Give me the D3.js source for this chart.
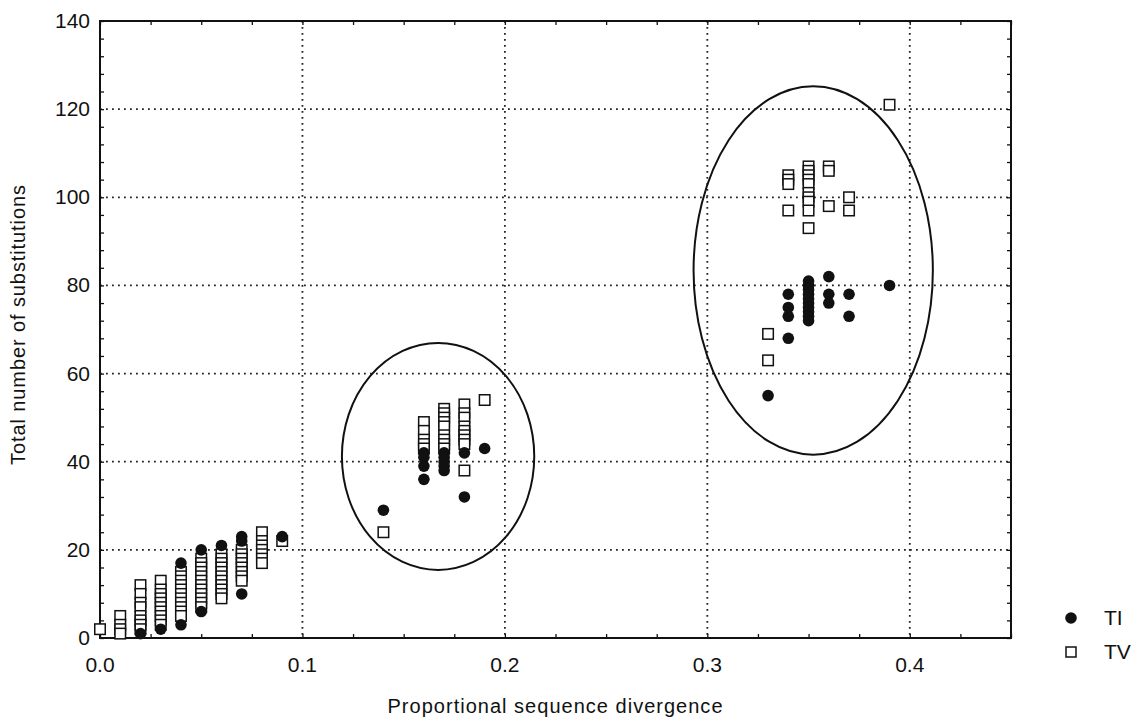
<!DOCTYPE html>
<html>
<head>
<meta charset="utf-8">
<script src="https://cdn.jsdelivr.net/npm/d3@7"></script>
<style>
  body { margin: 0; background: #fff; }
  svg text { font-family: "Liberation Sans", Arial, sans-serif; fill: #111; }
</style>
</head>
<body>
<svg id="chart" width="1148" height="723"></svg>
<script>
// values: [divergence, substitutions]
var tiPoints = [
  [0.02, 1], [0.03, 2],
  [0.04, 17], [0.04, 3],
  [0.05, 20], [0.05, 6],
  [0.06, 21],
  [0.07, 23], [0.07, 22], [0.07, 10],
  [0.09, 23],
  [0.14, 29],
  [0.16, 42], [0.16, 41], [0.16, 39], [0.16, 36],
  [0.17, 42], [0.17, 41], [0.17, 40], [0.17, 39], [0.17, 38],
  [0.18, 42], [0.18, 32],
  [0.19, 43],
  [0.33, 55],
  [0.34, 78], [0.34, 75], [0.34, 73], [0.34, 68],
  [0.35, 81], [0.35, 80], [0.35, 79], [0.35, 78], [0.35, 77], [0.35, 76], [0.35, 75], [0.35, 74], [0.35, 73], [0.35, 72],
  [0.36, 82], [0.36, 78], [0.36, 76],
  [0.37, 78], [0.37, 73],
  [0.39, 80]
];

var tvPoints = [
  [0.00, 2],
  [0.01, 5], [0.01, 3], [0.01, 2], [0.01, 1],
  [0.02, 12], [0.02, 10], [0.02, 8], [0.02, 7], [0.02, 5], [0.02, 4], [0.02, 3], [0.02, 2],
  [0.03, 13], [0.03, 11], [0.03, 10], [0.03, 9], [0.03, 8], [0.03, 7], [0.03, 6], [0.03, 5], [0.03, 4], [0.03, 3],
  [0.04, 15], [0.04, 14], [0.04, 13], [0.04, 12], [0.04, 11], [0.04, 10], [0.04, 9], [0.04, 8], [0.04, 7], [0.04, 6], [0.04, 5],
  [0.05, 18], [0.05, 17], [0.05, 16], [0.05, 15], [0.05, 14], [0.05, 13], [0.05, 12], [0.05, 11], [0.05, 10], [0.05, 9], [0.05, 8], [0.05, 7],
  [0.06, 19], [0.06, 18], [0.06, 17], [0.06, 16], [0.06, 15], [0.06, 14], [0.06, 13], [0.06, 12], [0.06, 11], [0.06, 10], [0.06, 9],
  [0.07, 20], [0.07, 19], [0.07, 18], [0.07, 17], [0.07, 16], [0.07, 15], [0.07, 14], [0.07, 13],
  [0.08, 24], [0.08, 22], [0.08, 21], [0.08, 20], [0.08, 19], [0.08, 18], [0.08, 17],
  [0.09, 22],
  [0.14, 24],
  [0.16, 49], [0.16, 47], [0.16, 45], [0.16, 44], [0.16, 43],
  [0.17, 52], [0.17, 51], [0.17, 50], [0.17, 49], [0.17, 48], [0.17, 46], [0.17, 45], [0.17, 44], [0.17, 43],
  [0.18, 53], [0.18, 51], [0.18, 50], [0.18, 48], [0.18, 47], [0.18, 46], [0.18, 45], [0.18, 44], [0.18, 38],
  [0.19, 54],
  [0.33, 69], [0.33, 63],
  [0.34, 105], [0.34, 104], [0.34, 103], [0.34, 97],
  [0.35, 107], [0.35, 106], [0.35, 105], [0.35, 104], [0.35, 103], [0.35, 101], [0.35, 100], [0.35, 99], [0.35, 97], [0.35, 93],
  [0.36, 107], [0.36, 106], [0.36, 98],
  [0.37, 100], [0.37, 97],
  [0.39, 121]
];

// the two clusters that are circled: centre and radii in data units
var clusterEllipses = [
  { cx: 0.167, cy: 41.2, rx: 0.0475, ry: 25.75 },
  { cx: 0.3523, cy: 83.4, rx: 0.0591, ry: 41.8 }
];

var xTicks = [0, 0.1, 0.2, 0.3, 0.4];
var yTicks = [0, 20, 40, 60, 80, 100, 120, 140];
var legendItems = ["TI", "TV"];

var svg = d3.select("#chart");
// plot frame in pixels
var pLeft = 100, pTop = 21, pRight = 1011, pBottom = 638;

var x = d3.scaleLinear().domain([0, 0.45]).range([pLeft, pRight]);
var y = d3.scaleLinear().domain([0, 140]).range([pBottom, pTop]);

// dotted grid, skip the frame edges
var grid = svg.append("g")
    .attr("stroke", "#222")
    .attr("stroke-width", 1.8)
    .attr("stroke-dasharray", "1.8,4.2");

grid.selectAll(".gx")
    .data(xTicks.filter(function(d) { return d > 0; }))
    .enter().append("line")
    .attr("x1", function(d) { return x(d); })
    .attr("x2", function(d) { return x(d); })
    .attr("y1", pTop).attr("y2", pBottom);

grid.selectAll(".gy")
    .data(yTicks.filter(function(d) { return d > 0 && d < 140; }))
    .enter().append("line")
    .attr("y1", function(d) { return y(d); })
    .attr("y2", function(d) { return y(d); })
    .attr("x1", pLeft).attr("x2", pRight);

// inner ticks on all four sides
var xMinor = d3.range(0, 0.4501, 0.025);
var yMinor = d3.range(0, 140.001, 4);

svg.append("g")
    .attr("transform", "translate(0," + pBottom + ")")
    .call(d3.axisBottom(x).tickValues(xMinor).tickSize(-4).tickFormat(""))
    .call(function(g) { g.select(".domain").remove(); });
svg.append("g")
    .attr("transform", "translate(0," + pTop + ")")
    .call(d3.axisTop(x).tickValues(xMinor).tickSize(-4).tickFormat(""))
    .call(function(g) { g.select(".domain").remove(); });
svg.append("g")
    .attr("transform", "translate(" + pLeft + ",0)")
    .call(d3.axisLeft(y).tickValues(yMinor).tickSize(-4).tickFormat(""))
    .call(function(g) { g.select(".domain").remove(); });
svg.append("g")
    .attr("transform", "translate(" + pRight + ",0)")
    .call(d3.axisRight(y).tickValues(yMinor).tickSize(-4).tickFormat(""))
    .call(function(g) { g.select(".domain").remove(); });

svg.selectAll(".tick line").attr("stroke", "#111").attr("stroke-width", 1.3);

// tick labels
svg.append("g").selectAll("text")
    .data(xTicks)
    .enter().append("text")
    .attr("x", function(d) { return x(d); })
    .attr("y", pBottom + 34)
    .attr("text-anchor", "middle")
    .attr("font-size", 21)
    .text(function(d) { return d3.format(".1f")(d); });

svg.append("g").selectAll("text")
    .data(yTicks)
    .enter().append("text")
    .attr("x", pLeft - 10)
    .attr("y", function(d) { return y(d) + 7; })
    .attr("text-anchor", "end")
    .attr("font-size", 21)
    .text(function(d) { return d; });

// frame
svg.append("rect")
    .attr("x", pLeft).attr("y", pTop)
    .attr("width", pRight - pLeft).attr("height", pBottom - pTop)
    .attr("fill", "none")
    .attr("stroke", "#111")
    .attr("stroke-width", 2);

// axis titles
svg.append("text")
    .attr("x", 555).attr("y", 713)
    .attr("text-anchor", "middle")
    .attr("font-size", 20)
    .attr("textLength", 335)
    .text("Proportional sequence divergence");

svg.append("text")
    .attr("transform", "translate(25,325)rotate(-90)")
    .attr("text-anchor", "middle")
    .attr("font-size", 20)
    .attr("textLength", 280)
    .text("Total number of substitutions");

// ellipses round the clusters
svg.append("g").selectAll("ellipse")
    .data(clusterEllipses)
    .enter().append("ellipse")
    .attr("cx", function(d) { return x(d.cx); })
    .attr("cy", function(d) { return y(d.cy); })
    .attr("rx", function(d) { return x(d.rx) - x(0); })
    .attr("ry", function(d) { return y(0) - y(d.ry); })
    .attr("fill", "none")
    .attr("stroke", "#111")
    .attr("stroke-width", 2);

// TV squares first, TI dots over them
var sq = 10.5;
svg.append("g").selectAll("rect")
    .data(tvPoints)
    .enter().append("rect")
    .attr("x", function(d) { return x(d[0]) - sq / 2; })
    .attr("y", function(d) { return y(d[1]) - sq / 2; })
    .attr("width", sq).attr("height", sq)
    .attr("fill", "#fff")
    .attr("stroke", "#111")
    .attr("stroke-width", 1.5);

svg.append("g").selectAll("circle")
    .data(tiPoints)
    .enter().append("circle")
    .attr("cx", function(d) { return x(d[0]); })
    .attr("cy", function(d) { return y(d[1]); })
    .attr("r", 5.8)
    .attr("fill", "#111");

// legend
var legend = svg.append("g").selectAll("g")
    .data(legendItems)
    .enter().append("g")
    .attr("transform", function(d, i) { return "translate(1071," + (618 + i * 34) + ")"; });

legend.filter(function(d, i) { return i === 0; })
    .append("circle").attr("r", 5.8).attr("fill", "#111");
legend.filter(function(d, i) { return i === 1; })
    .append("rect")
    .attr("x", -5).attr("y", -5).attr("width", 10).attr("height", 10)
    .attr("fill", "#fff").attr("stroke", "#111").attr("stroke-width", 1.5);

legend.append("text")
    .attr("x", 33).attr("y", 7)
    .attr("font-size", 21)
    .text(function(d) { return d; });
</script>
</body>
</html>
